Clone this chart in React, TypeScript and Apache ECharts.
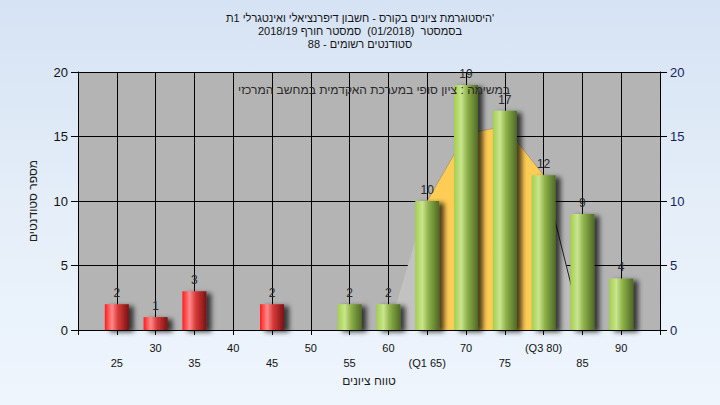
import React, { useEffect, useRef } from "react";
import * as echarts from "echarts";

// ---- data ----
const titleLines = [
  "היסטוגרמת ציונים בקורס - חשבון דיפרנציאלי ואינטגרלי 1ת'",
  "בסמסטר  (01/2018)  סמסטר חורף 2018/19",
  "סטודנטים רשומים - 88",
];
const seriesName = "במשימה : ציון סופי במערכת האקדמית במחשב המרכזי";
const xAxisName = "טווח ציונים";
const yAxisName = "מספר סטודנטים";

const gradeBins = [25, 30, 35, 40, 45, 50, 55, 60, 65, 70, 75, 80, 85, 90];
const studentCounts = [2, 1, 3, 0, 2, 0, 2, 2, 10, 19, 17, 12, 9, 4];
const passThreshold = 55;

const q1 = 65;
const q3 = 80;
const specialTickLabels: Record<number, string> = { 65: "(Q1 65)", 80: "(Q3 80)" };

const curveX = [60, 65, 70, 75, 80, 85];
const curveY = [0, 10, 15.2, 15.8, 12, 0];

const xMin = 20;
const xMax = 95;
const xStep = 5;
const yMax = 20;
const yStep = 5;

const FONT = "Liberation Sans, Arial, sans-serif";

function buildOption() {
  const curve = curveX.map((x, i) => [x, curveY[i]]);
  const leftTail = curve.filter((p) => p[0] <= q1);
  const middle = curve.filter((p) => p[0] >= q1 && p[0] <= q3);
  const rightTail = curve.filter((p) => p[0] >= q3);

  const red = new echarts.graphic.LinearGradient(0, 0, 1, 0, [
    { offset: 0, color: "#ff1c1c" },
    { offset: 0.3, color: "#ff8a8a" },
    { offset: 0.55, color: "#d83a3a" },
    { offset: 1, color: "#7a1212" },
  ]);
  const green = new echarts.graphic.LinearGradient(0, 0, 1, 0, [
    { offset: 0, color: "#a4cf4e" },
    { offset: 0.3, color: "#c9e58e" },
    { offset: 0.55, color: "#8fb24a" },
    { offset: 1, color: "#4f6a26" },
  ]);

  const barData = gradeBins
    .map((x, i) => ({ x, v: studentCounts[i] }))
    .filter((d) => d.v > 0)
    .map((d) => ({
      value: [d.x, d.v],
      itemStyle: { color: d.x < passThreshold ? red : green },
    }));

  return {
    animation: false,
    backgroundColor: "transparent",
    title: [
      {
        text: titleLines.join("\n"),
        left: "center",
        top: 6,
        textStyle: {
          fontFamily: FONT,
          fontSize: 11,
          fontWeight: "normal",
          color: "#141414",
          lineHeight: 13,
        },
      },
      {
        text: seriesName,
        left: 369,
        top: 79,
        textAlign: "center",
        textStyle: {
          fontFamily: FONT,
          fontSize: 12,
          fontWeight: "normal",
          color: "#2a2a2a",
        },
      },
    ],
    grid: {
      left: 78,
      right: 60,
      top: 72,
      bottom: 75,
      show: true,
      backgroundColor: "#b4b4b4",
      borderWidth: 0,
    },
    xAxis: {
      type: "value",
      min: xMin,
      max: xMax,
      interval: xStep,
      name: xAxisName,
      nameLocation: "middle",
      nameGap: 45,
      nameTextStyle: { fontFamily: FONT, fontSize: 12, color: "#1e1e1e" },
      axisLine: { show: true, lineStyle: { color: "#000", width: 1 } },
      axisTick: { show: true, length: 5, lineStyle: { color: "#000" } },
      splitLine: { show: true, lineStyle: { color: "#000", width: 1 } },
      axisLabel: {
        fontFamily: FONT,
        fontSize: 11,
        color: "#111",
        margin: 10,
        lineHeight: 15,
        interval: 0,
        formatter: (v: number) => {
          if (v <= xMin || v >= xMax) return "";
          const label = specialTickLabels[v] ?? String(v);
          const idx = Math.round((v - gradeBins[0]) / xStep);
          return idx % 2 === 0 ? "\n" + label : label;
        },
      },
    },
    yAxis: [
      {
        type: "value",
        min: 0,
        max: yMax,
        interval: yStep,
        position: "left",
        name: yAxisName,
        nameLocation: "middle",
        nameGap: 39,
        nameTextStyle: { fontFamily: FONT, fontSize: 12, color: "#1e1e1e" },
        axisLine: { show: true, lineStyle: { color: "#000" } },
        axisTick: { show: true, length: 7, lineStyle: { color: "#000" } },
        splitLine: { show: true, lineStyle: { color: "#000", width: 1 } },
        axisLabel: { fontFamily: FONT, fontSize: 13, color: "#111", margin: 10 },
      },
      {
        type: "value",
        min: 0,
        max: yMax,
        interval: yStep,
        position: "right",
        axisLine: { show: true, lineStyle: { color: "#000" } },
        axisTick: { show: true, length: 7, lineStyle: { color: "#000" } },
        splitLine: { show: false },
        axisLabel: { fontFamily: FONT, fontSize: 13, color: "#15245a", margin: 10 },
      },
    ],
    series: [
      {
        type: "line",
        z: 1,
        data: leftTail,
        showSymbol: false,
        lineStyle: { width: 0 },
        areaStyle: { color: "#c2c2c2", opacity: 1 },
      },
      {
        type: "line",
        z: 1,
        data: middle,
        showSymbol: false,
        lineStyle: { width: 0.6, color: "#9a8a60" },
        areaStyle: { color: "#ffcc55", opacity: 1 },
      },
      {
        type: "line",
        z: 1,
        data: rightTail,
        showSymbol: false,
        lineStyle: { width: 1, color: "#222" },
        areaStyle: { color: "#bcbcbc", opacity: 1 },
      },
      {
        type: "bar",
        z: 3,
        name: seriesName,
        data: barData,
        barWidth: 24,
        itemStyle: {
          shadowColor: "rgba(0,0,0,0.7)",
          shadowBlur: 5,
          shadowOffsetX: 5,
          shadowOffsetY: 2,
        },
        label: {
          show: true,
          position: "top",
          distance: 5,
          fontFamily: FONT,
          fontSize: 12,
          color: "#2a2a2a",
          formatter: (p: any) => String(p.value[1]),
        },
      },
    ],
  };
}

export default function App() {
  const ref = useRef<HTMLDivElement>(null);
  useEffect(() => {
    document.body.style.margin = "0";
    const chart = echarts.init(ref.current!, null, { renderer: "svg" });
    chart.setOption(buildOption() as any);
    return () => chart.dispose();
  }, []);
  return (
    <div
      ref={ref}
      style={{
        width: 720,
        height: 405,
        background: "linear-gradient(to bottom, #d6e3f4 0%, #e6eff9 55%, #eef5fd 100%)",
      }}
    />
  );
}
